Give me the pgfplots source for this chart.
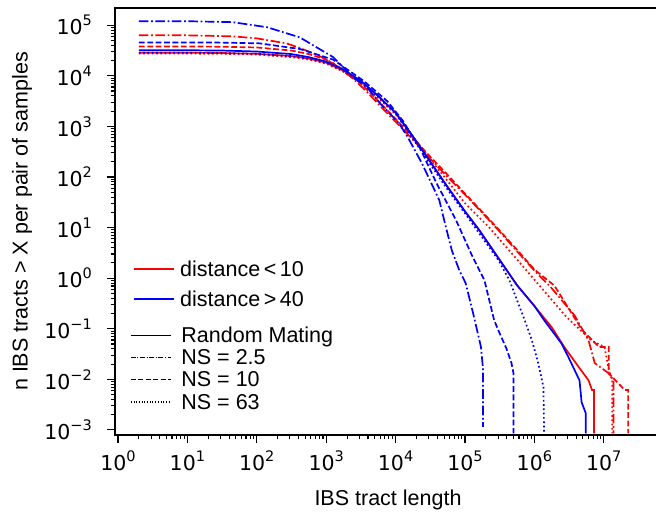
\documentclass[border=0pt]{standalone}
\usepackage{fontspec}
\setmainfont{Liberation Sans}
\newfontfamily\dejavu{DejaVu Sans}
\usepackage{pgfplots}
\pgfplotsset{compat=1.18}

% tick labels like 10^k in text font
\newcommand\tl[1]{10\raisebox{9bp}{\fontsize{14.5bp}{16bp}\selectfont #1}}

\tikzset{
  rm/.style={line width=1.7bp},
  ns25/.style={line width=1.7bp, dash pattern=on 9.6bp off 2.6bp on 1.7bp off 2.6bp},
  ns10/.style={line width=1.7bp, dash pattern=on 5.8bp off 2.6bp},
  ns63/.style={line width=1.7bp, dash pattern=on 1.7bp off 2.6bp},
}

\begin{document}
\begin{tikzpicture}
\begin{axis}[
    scale only axis, width=546bp, height=427bp,
    xmode=log, ymode=log,
    xmin=0.906, xmax=6.67e7, ymin=7.94e-4, ymax=2.19e5,
    at={(0,0)}, anchor=south west,
    tick align=outside, tick pos=left,
    major tick length=8bp, minor tick length=4.5bp,
    every tick/.style={black, line width=1.1bp},
    axis line style={line width=1.8bp},
    xtick={1,10,100,1000,10000,100000,1000000,10000000},
    xticklabels={\tl{0},\tl{1},\tl{2},\tl{3},\tl{4},\tl{5},\tl{6},\tl{7}},
    ytick={0.001,0.01,0.1,1,10,100,1000,10000,100000},
    yticklabels={\tl{−3},\tl{−2},\tl{−1},\tl{0},\tl{1},\tl{2},\tl{3},\tl{4},\tl{5}},
    tick label style={font=\fontsize{20.5bp}{24bp}\dejavu},
    xticklabel style={anchor=north, inner sep=0pt, yshift=-8bp},
    yticklabel style={anchor=east, inner sep=0pt, xshift=-15bp},
    xlabel={IBS tract length},
    ylabel={n IBS tracts > X per pair of samples},
    every axis x label/.style={at={([yshift=-64.5bp]rel axis cs:0.5,0)}, anchor=center,
      inner sep=0pt, font=\fontsize{21.5bp}{25bp}\selectfont},
    every axis y label/.style={at={([xshift=-93bp]rel axis cs:0,0.5)}, anchor=center, rotate=90,
      inner sep=0pt, font=\fontsize{21.5bp}{25bp}\selectfont},
    legend cell align=left,
    legend image code/.code={\draw[#1] (0bp,0bp) -- (40bp,0bp);},
    legend style={draw=none, fill=none, inner sep=0pt, at={(0.033,0.410)}, anchor=north west,
      column sep=5bp, row sep=12bp, font=\fontsize{21.5bp}{25bp}\selectfont,
      nodes={inner sep=0pt, text height=16bp, text depth=2bp}},
  ]
\coordinate (sw) at (rel axis cs:0,0);

% distance < 10 (red)
\addplot[red, rm, forget plot] coordinates {
 (2,2.86e4) (10,2.86e4) (31.6,2.82e4) (100,2.72e4) (316,2.45e4) (562,2.19e4)
 (1000,1.82e4) (1778,1.26e4) (3162,7.94e3) (5623,3.98e3) (1e4,1.86e3)
 (17783,631) (31623,200) (56234,63.1) (1e5,20.9) (1.585e5,9.12)
 (3.162e5,2.29) (5.623e5,0.724) (1e6,0.282) (1.778e6,0.107) (2.692e6,0.0437)
 (4.365e6,0.0174) (6.026e6,0.00955) (6.761e6,0.00617) (7.244e6,0.00617)
 (7.244e6,0.000851)};
\addplot[red, ns25, forget plot] coordinates {
 (2,6.31e4) (10,6.31e4) (44.7,6.03e4) (100,5.50e4) (269,4.37e4) (417,3.55e4)
 (724,2.63e4) (1259,1.78e4) (2512,8.51e3) (3890,4.79e3) (6026,2.51e3)
 (11220,1.05e3) (18197,525) (31623,229) (56234,100) (1e5,44.7) (1.778e5,19.5)
 (3.02e5,8.91) (5.623e5,3.39) (1e6,1.41) (1.778e6,0.631) (3.802e6,0.182)
 (6.026e6,0.0589) (7.413e6,0.0209) (1.175e7,0.0132) (1.38e7,0.00955)
 (1.38e7,0.000851)};
\addplot[red, ns10, forget plot] coordinates {
 (2,3.80e4) (10,3.80e4) (31.6,3.76e4) (100,3.63e4) (316,3.16e4) (562,2.69e4)
 (1000,2.09e4) (1778,1.32e4) (3162,7.08e3) (5623,3.16e3) (1e4,1.41e3)
 (18197,575) (31623,251) (56234,110) (1e5,46.8) (1.778e5,20.4)
 (3.02e5,9.33) (5.623e5,3.63) (1e6,1.48) (1.95e6,0.708) (4.786e6,0.0977)
 (8.511e6,0.0437) (1.175e7,0.0437) (1.175e7,0.0132) (1.995e7,0.00617)
 (2.239e7,0.00617) (2.239e7,0.000851)};
\addplot[red, ns63, forget plot] coordinates {
 (2,2.75e4) (10,2.75e4) (31.6,2.72e4) (100,2.63e4) (316,2.34e4) (562,2.09e4)
 (1000,1.74e4) (1778,1.20e4) (3162,7.24e3) (5623,3.63e3) (1e4,1.74e3)
 (17783,631) (31623,224) (56234,83.2) (1e5,30.2) (2.239e5,10.0)
 (5.623e5,2.34) (1e6,0.933) (2.951e6,0.166) (6.761e6,0.0575)
 (1.023e7,0.0437) (1.175e7,0.0158) (1.318e7,0.00955) (1.318e7,0.000851)};

% distance > 40 (blue)
\addplot[blue, rm, forget plot] coordinates {
 (2,3.20e4) (10,3.20e4) (31.6,3.16e4) (100,3.02e4) (316,2.69e4) (562,2.34e4)
 (1000,1.91e4) (1778,1.32e4) (3162,7.94e3) (5623,3.98e3) (1e4,1.86e3)
 (17783,631) (31623,200) (56234,63.1) (1e5,20.9) (1.585e5,9.12)
 (3.162e5,2.29) (5.623e5,0.724) (1e6,0.282) (1.38e6,0.148) (2.455e6,0.0513)
 (3.09e6,0.0275) (4.467e6,0.00955) (4.786e6,0.00355) (5.495e6,0.00214)
 (5.495e6,0.000851)};
\addplot[blue, ns25, forget plot] coordinates {
 (2,1.20e5) (10,1.20e5) (44.7,1.15e5) (141,9.12e4) (417,5.75e4) (1259,2.34e4)
 (2455,9.33e3) (3890,5.89e3) (6310,2.63e3) (11220,1.15e3) (14791,631)
 (23988,186) (31623,83.2) (42658,34.7) (53703,9.55) (64565,3.55)
 (83176,1.41) (1.023e5,0.794) (1.349e5,0.170) (1.698e5,0.0437)
 (1.820e5,0.0158) (1.820e5,0.00115)};
\addplot[blue, ns10, forget plot] coordinates {
 (2,4.57e4) (10,4.57e4) (31.6,4.53e4) (110,4.38e4) (417,3.39e4) (1259,2.09e4)
 (3467,7.94e3) (7586,3.16e3) (12589,1.32e3) (22909,355) (33113,120)
 (39811,70.8) (74131,14.1) (1.259e5,2.82) (1.905e5,0.912) (2.63e5,0.148)
 (3.02e5,0.0933) (3.981e5,0.0398) (4.677e5,0.0209) (5.012e5,0.0129)
 (5.012e5,0.000851)};
\addplot[blue, ns63, forget plot] coordinates {
 (2,2.86e4) (10,2.86e4) (31.6,2.82e4) (100,2.72e4) (316,2.45e4) (562,2.19e4)
 (1000,1.82e4) (1778,1.26e4) (3162,7.76e3) (5623,3.89e3) (1e4,1.82e3)
 (17783,575) (31623,178) (56234,56.2) (1e5,19.1) (1.778e5,6.31)
 (3.02e5,2.29) (4.365e5,0.912) (7.244e5,0.148) (9.12e5,0.0617)
 (1.122e6,0.0224) (1.349e6,0.00708) (1.38e6,0.000851)};

\addlegendimage{red, line width=2bp}
\addlegendentry{distance\,<\,10}
\addlegendimage{blue, line width=2bp}
\addlegendentry{distance\,>\,40}
\end{axis}

% second legend: line styles
\begin{axis}[
    scale only axis, width=546bp, height=427bp,
    xmode=log, ymode=log,
    xmin=0.906, xmax=6.67e7, ymin=7.94e-4, ymax=2.19e5,
    at={(0,0)}, anchor=south west, hide axis,
    legend cell align=left,
    legend image code/.code={\draw[#1] (0bp,0bp) -- (40bp,0bp);},
    legend style={draw=none, fill=none, inner sep=0pt, at={(0.0275,0.2553)}, anchor=north west,
      column sep=10bp, row sep=4.3bp, font=\fontsize{21.5bp}{25bp}\selectfont,
      nodes={inner sep=0pt, text height=16bp, text depth=2bp}},
  ]
\addlegendimage{black, line width=1.2bp}
\addlegendentry{Random Mating}
\addlegendimage{black, line width=1.2bp, dash pattern=on 5bp off 1.6bp on 1bp off 1.6bp}
\addlegendentry{NS = 2.5}
\addlegendimage{black, line width=1.2bp, dash pattern=on 5bp off 2.5bp}
\addlegendentry{NS = 10}
\addlegendimage{black, line width=1.2bp, dash pattern=on 1bp off 1.7bp}
\addlegendentry{NS = 63}
\end{axis}

\pgfresetboundingbox
\path (sw) ++(-115bp,-80bp) rectangle ++(656bp,515bp);
\end{tikzpicture}
\end{document}
